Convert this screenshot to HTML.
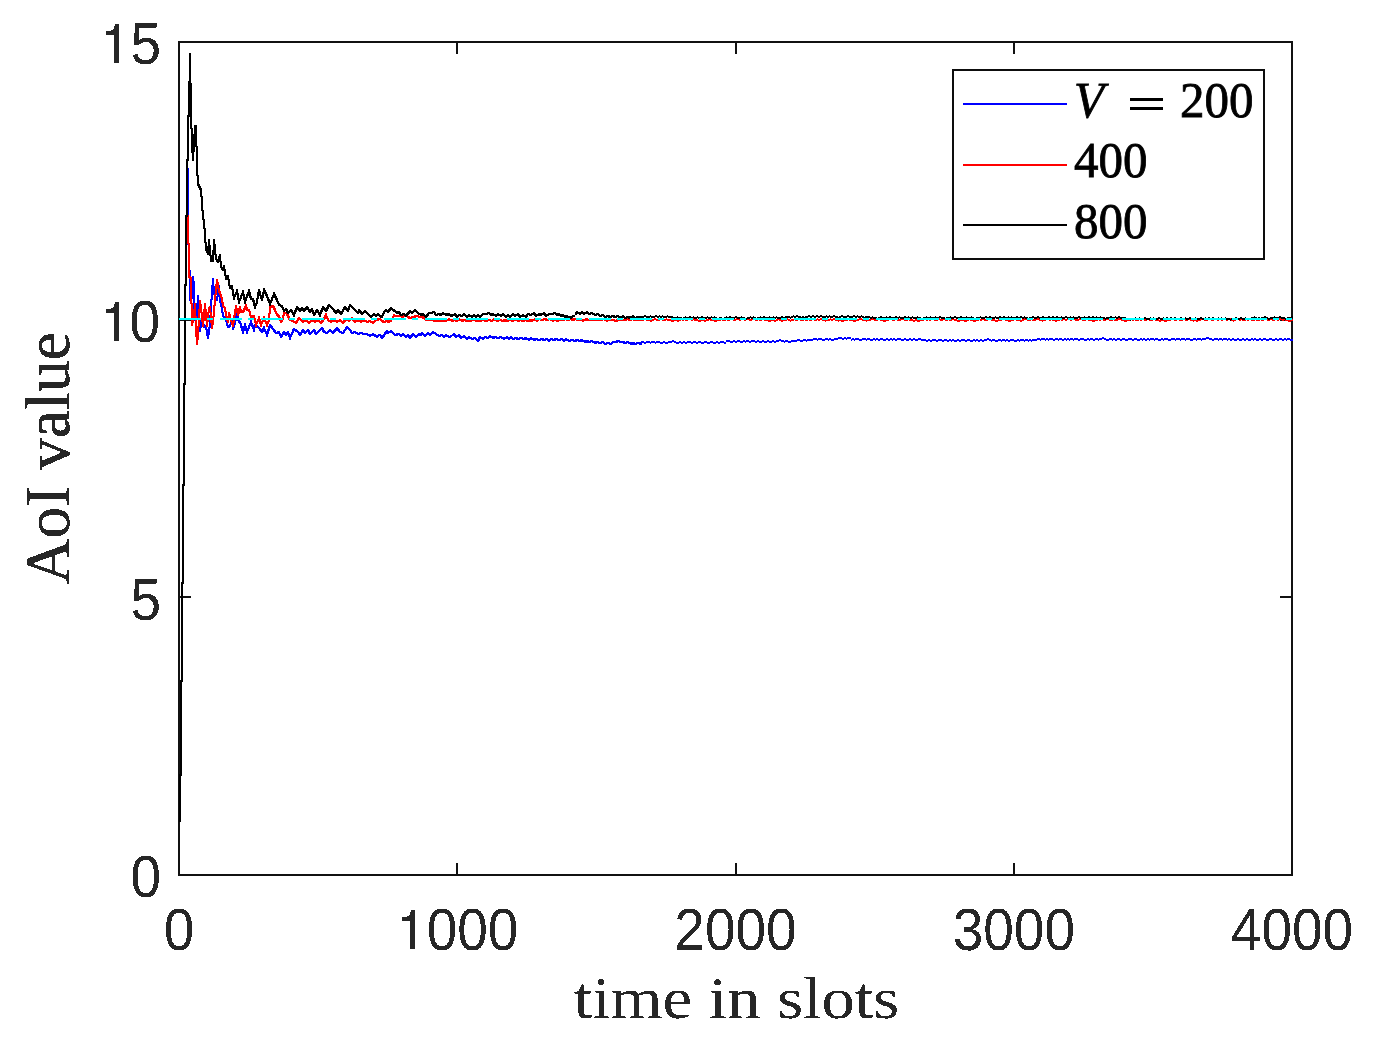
<!DOCTYPE html><html><head><meta charset="utf-8"><style>html,body{margin:0;padding:0;background:#fff;}svg{display:block}</style></head><body>
<svg width="1375" height="1044" viewBox="0 0 1375 1044">
<rect x="0" y="0" width="1375" height="1044" fill="#fff"/>
<filter id="bin" x="0" y="0" width="1375" height="1044" filterUnits="userSpaceOnUse"><feComponentTransfer><feFuncA type="discrete" tableValues="0 1"/></feComponentTransfer></filter>
<rect x="179" y="42" width="1113" height="833" fill="none" stroke="#111111" stroke-width="2" shape-rendering="crispEdges"/>
<line x1="457" y1="875" x2="457" y2="863" stroke="#111111" stroke-width="2" shape-rendering="crispEdges"/>
<line x1="457" y1="42" x2="457" y2="54" stroke="#111111" stroke-width="2" shape-rendering="crispEdges"/>
<line x1="736" y1="875" x2="736" y2="863" stroke="#111111" stroke-width="2" shape-rendering="crispEdges"/>
<line x1="736" y1="42" x2="736" y2="54" stroke="#111111" stroke-width="2" shape-rendering="crispEdges"/>
<line x1="1014" y1="875" x2="1014" y2="863" stroke="#111111" stroke-width="2" shape-rendering="crispEdges"/>
<line x1="1014" y1="42" x2="1014" y2="54" stroke="#111111" stroke-width="2" shape-rendering="crispEdges"/>
<line x1="179" y1="597" x2="191" y2="597" stroke="#111111" stroke-width="2" shape-rendering="crispEdges"/>
<line x1="1292" y1="597" x2="1280" y2="597" stroke="#111111" stroke-width="2" shape-rendering="crispEdges"/>
<line x1="179" y1="320" x2="191" y2="320" stroke="#111111" stroke-width="2" shape-rendering="crispEdges"/>
<line x1="1292" y1="320" x2="1280" y2="320" stroke="#111111" stroke-width="2" shape-rendering="crispEdges"/>
<polyline transform="translate(0,0)" fill="none" stroke="#0000ff" stroke-width="1" shape-rendering="crispEdges" points="179.5,820.5 179.5,774.5 180.5,774.5 180.5,680.5 181.5,680.5 181.5,582.5 182.5,582.5 182.5,484.5 183.5,484.5 183.5,383.5 184.5,383.5 184.5,284.5 185.5,284.5 185.5,215.5 186.5,215.5 186.5,168.5 187.5,168.5 187.5,224.5 188.5,263.5 189.5,276.5 189.5,299.5 191.5,298.5 192.5,276.5 193.5,285.5 193.5,302.5 195.5,325.5 197.5,295.5 198.5,315.5 199.5,330.5 201.5,315.5 203.5,326.5 205.5,325.5 207.5,337.5 209.5,323.5 211.5,291.5 212.5,278.5 213.5,292.5 215.5,299.5 216.5,299.5 218.5,285.5 219.5,300.5 221.5,307.5 222.5,315.5 225.5,319.5 227.5,326.5 229.5,325.5 231.5,319.5 232.5,328.5 234.5,322.5 236.5,314.5 238.5,321.5 239.5,321.5 242.5,331.5 244.5,324.5 246.5,331.5 250.5,321.5 253.5,329.5 254.5,324.5 258.5,327.5 261.5,331.5 263.5,327.5 266.5,334.5 269.5,324.5 272.5,328.5 275.5,332.5 278.5,331.5 280.5,336.5 283.5,331.5 285.5,334.5 287.5,331.5 289.5,337.5 293.5,328.5 297.5,331.5 299.5,334.5 302.5,329.5 304.5,332.5 307.5,329.5 309.5,333.5 313.5,329.5 315.5,333.5 319.5,329.5 321.5,327.5 323.5,331.5 326.5,332.5 329.5,329.5 332.5,332.5 336.5,327.5 339.5,331.5 342.5,332.5 346.5,326.5 349.5,329.5 351.5,332.5 354.5,331.5 357.5,333.5 360.5,332.5 363.5,333.5 366.5,333.5 369.5,335.5 372.5,333.5 376.5,336.5 378.5,334.5 379.5,334.5 381.5,337.5 386.5,330.5 387.5,332.5 390.5,330.5 394.5,334.5 398.5,333.5 400.5,335.5 402.5,333.5 405.5,336.5 407.5,334.5 409.5,337.5 412.5,333.5 415.5,336.5 418.5,333.5 420.5,334.5 421.5,332.5 424.5,335.5 427.5,332.5 429.5,334.5 432.5,331.5 435.5,333.5 438.5,335.5 441.5,334.5 443.5,336.5 445.5,334.5 448.5,336.5 451.5,335.5 453.5,333.5 455.5,336.5 458.5,334.5 460.5,337.5 463.5,335.5 466.5,338.5 468.5,336.5 471.5,338.5 474.5,337.5 477.5,340.5 479.5,336.5 482.5,338.5 484.5,336.5 487.5,337.5 489.5,335.5 492.5,337.5 494.5,336.5 497.5,337.5 500.5,336.5 503.5,338.5 506.5,336.5 508.5,338.5 510.5,336.5 512.5,338.5 515.5,337.5 517.5,338.5 520.5,337.5 523.5,338.5 525.5,337.5 528.5,339.5 530.5,337.5 533.5,339.5 535.5,338.5 538.5,339.5 541.5,338.5 543.5,339.5 546.5,338.5 548.5,340.5 550.5,338.5 553.5,339.5 555.5,338.5 558.5,339.5 561.5,338.5 563.5,340.5 565.5,338.5 568.5,340.5 571.5,339.5 574.5,340.5 576.5,339.5 579.5,340.5 581.5,339.5 584.5,341.5 586.5,340.5 588.5,341.5 591.5,340.5 594.5,342.5 596.5,341.5 599.5,342.5 602.5,341.5 604.5,343.5 607.5,342.5 610.5,343.5 612.5,341.5 615.5,341.5 617.5,340.5 620.5,341.5 622.5,341.5 624.5,342.5 627.5,341.5 630.5,343.5 632.5,342.5 634.5,343.5 637.5,342.5 640.5,343.5 640.5,341.5"/>
<polyline transform="translate(1,0)" fill="none" stroke="#0000ff" stroke-width="1" shape-rendering="crispEdges" points="179.5,820.5 179.5,774.5 180.5,774.5 180.5,680.5 181.5,680.5 181.5,582.5 182.5,582.5 182.5,484.5 183.5,484.5 183.5,383.5 184.5,383.5 184.5,284.5 185.5,284.5 185.5,215.5 186.5,215.5 186.5,168.5 187.5,168.5 187.5,224.5 188.5,263.5 189.5,276.5 189.5,299.5 191.5,298.5 192.5,276.5 193.5,285.5 193.5,302.5 195.5,325.5 197.5,295.5 198.5,315.5 199.5,330.5 201.5,315.5 203.5,326.5 205.5,325.5 207.5,337.5 209.5,323.5 211.5,291.5 212.5,278.5 213.5,292.5 215.5,299.5 216.5,299.5 218.5,285.5 219.5,300.5 221.5,307.5 222.5,315.5 225.5,319.5 227.5,326.5 229.5,325.5 231.5,319.5 232.5,328.5 234.5,322.5 236.5,314.5 238.5,321.5 239.5,321.5 242.5,331.5 244.5,324.5 246.5,331.5 250.5,321.5 253.5,329.5 254.5,324.5 258.5,327.5 261.5,331.5 263.5,327.5 266.5,334.5 269.5,324.5 272.5,328.5 275.5,332.5 278.5,331.5 280.5,336.5 283.5,331.5 285.5,334.5 287.5,331.5 289.5,337.5 293.5,328.5 297.5,331.5 299.5,334.5 302.5,329.5 304.5,332.5 307.5,329.5 309.5,333.5 313.5,329.5 315.5,333.5 319.5,329.5 321.5,327.5 323.5,331.5 326.5,332.5 329.5,329.5 332.5,332.5 336.5,327.5 339.5,331.5 342.5,332.5 346.5,326.5 349.5,329.5 351.5,332.5 354.5,331.5 357.5,333.5 360.5,332.5 363.5,333.5 366.5,333.5 369.5,335.5 372.5,333.5 376.5,336.5 378.5,334.5 379.5,334.5 381.5,337.5 386.5,330.5 387.5,332.5 390.5,330.5 394.5,334.5 398.5,333.5 400.5,335.5 402.5,333.5 405.5,336.5 407.5,334.5 409.5,337.5 412.5,333.5 415.5,336.5 418.5,333.5 420.5,334.5 421.5,332.5 424.5,335.5 427.5,332.5 429.5,334.5 432.5,331.5 435.5,333.5 438.5,335.5 441.5,334.5 443.5,336.5 445.5,334.5 448.5,336.5 451.5,335.5 453.5,333.5 455.5,336.5 458.5,334.5 460.5,337.5 463.5,335.5 466.5,338.5 468.5,336.5 471.5,338.5 474.5,337.5 477.5,340.5 479.5,336.5 482.5,338.5 484.5,336.5 487.5,337.5 489.5,335.5 492.5,337.5 494.5,336.5 497.5,337.5 500.5,336.5 503.5,338.5 506.5,336.5 508.5,338.5 510.5,336.5 512.5,338.5 515.5,337.5 517.5,338.5 520.5,337.5 523.5,338.5 525.5,337.5 528.5,339.5 530.5,337.5 533.5,339.5 535.5,338.5 538.5,339.5 541.5,338.5 543.5,339.5 546.5,338.5 548.5,340.5 550.5,338.5 553.5,339.5 555.5,338.5 558.5,339.5 561.5,338.5 563.5,340.5 565.5,338.5 568.5,340.5 571.5,339.5 574.5,340.5 576.5,339.5 579.5,340.5 581.5,339.5 584.5,341.5 586.5,340.5 588.5,341.5 591.5,340.5 594.5,342.5 596.5,341.5 599.5,342.5 602.5,341.5 604.5,343.5 607.5,342.5 610.5,343.5 612.5,341.5 615.5,341.5 617.5,340.5 620.5,341.5 622.5,341.5 624.5,342.5 627.5,341.5 630.5,343.5 632.5,342.5 634.5,343.5 637.5,342.5 640.5,343.5 640.5,341.5"/>
<polyline transform="translate(0,1)" fill="none" stroke="#0000ff" stroke-width="1" shape-rendering="crispEdges" points="179.5,820.5 179.5,774.5 180.5,774.5 180.5,680.5 181.5,680.5 181.5,582.5 182.5,582.5 182.5,484.5 183.5,484.5 183.5,383.5 184.5,383.5 184.5,284.5 185.5,284.5 185.5,215.5 186.5,215.5 186.5,168.5 187.5,168.5 187.5,224.5 188.5,263.5 189.5,276.5 189.5,299.5 191.5,298.5 192.5,276.5 193.5,285.5 193.5,302.5 195.5,325.5 197.5,295.5 198.5,315.5 199.5,330.5 201.5,315.5 203.5,326.5 205.5,325.5 207.5,337.5 209.5,323.5 211.5,291.5 212.5,278.5 213.5,292.5 215.5,299.5 216.5,299.5 218.5,285.5 219.5,300.5 221.5,307.5 222.5,315.5 225.5,319.5 227.5,326.5 229.5,325.5 231.5,319.5 232.5,328.5 234.5,322.5 236.5,314.5 238.5,321.5 239.5,321.5 242.5,331.5 244.5,324.5 246.5,331.5 250.5,321.5 253.5,329.5 254.5,324.5 258.5,327.5 261.5,331.5 263.5,327.5 266.5,334.5 269.5,324.5 272.5,328.5 275.5,332.5 278.5,331.5 280.5,336.5 283.5,331.5 285.5,334.5 287.5,331.5 289.5,337.5 293.5,328.5 297.5,331.5 299.5,334.5 302.5,329.5 304.5,332.5 307.5,329.5 309.5,333.5 313.5,329.5 315.5,333.5 319.5,329.5 321.5,327.5 323.5,331.5 326.5,332.5 329.5,329.5 332.5,332.5 336.5,327.5 339.5,331.5 342.5,332.5 346.5,326.5 349.5,329.5 351.5,332.5 354.5,331.5 357.5,333.5 360.5,332.5 363.5,333.5 366.5,333.5 369.5,335.5 372.5,333.5 376.5,336.5 378.5,334.5 379.5,334.5 381.5,337.5 386.5,330.5 387.5,332.5 390.5,330.5 394.5,334.5 398.5,333.5 400.5,335.5 402.5,333.5 405.5,336.5 407.5,334.5 409.5,337.5 412.5,333.5 415.5,336.5 418.5,333.5 420.5,334.5 421.5,332.5 424.5,335.5 427.5,332.5 429.5,334.5 432.5,331.5 435.5,333.5 438.5,335.5 441.5,334.5 443.5,336.5 445.5,334.5 448.5,336.5 451.5,335.5 453.5,333.5 455.5,336.5 458.5,334.5 460.5,337.5 463.5,335.5 466.5,338.5 468.5,336.5 471.5,338.5 474.5,337.5 477.5,340.5 479.5,336.5 482.5,338.5 484.5,336.5 487.5,337.5 489.5,335.5 492.5,337.5 494.5,336.5 497.5,337.5 500.5,336.5 503.5,338.5 506.5,336.5 508.5,338.5 510.5,336.5 512.5,338.5 515.5,337.5 517.5,338.5 520.5,337.5 523.5,338.5 525.5,337.5 528.5,339.5 530.5,337.5 533.5,339.5 535.5,338.5 538.5,339.5 541.5,338.5 543.5,339.5 546.5,338.5 548.5,340.5 550.5,338.5 553.5,339.5 555.5,338.5 558.5,339.5 561.5,338.5 563.5,340.5 565.5,338.5 568.5,340.5 571.5,339.5 574.5,340.5 576.5,339.5 579.5,340.5 581.5,339.5 584.5,341.5 586.5,340.5 588.5,341.5 591.5,340.5 594.5,342.5 596.5,341.5 599.5,342.5 602.5,341.5 604.5,343.5 607.5,342.5 610.5,343.5 612.5,341.5 615.5,341.5 617.5,340.5 620.5,341.5 622.5,341.5 624.5,342.5 627.5,341.5 630.5,343.5 632.5,342.5 634.5,343.5 637.5,342.5 640.5,343.5 640.5,341.5"/>
<polyline transform="translate(1,1)" fill="none" stroke="#0000ff" stroke-width="1" shape-rendering="crispEdges" points="179.5,820.5 179.5,774.5 180.5,774.5 180.5,680.5 181.5,680.5 181.5,582.5 182.5,582.5 182.5,484.5 183.5,484.5 183.5,383.5 184.5,383.5 184.5,284.5 185.5,284.5 185.5,215.5 186.5,215.5 186.5,168.5 187.5,168.5 187.5,224.5 188.5,263.5 189.5,276.5 189.5,299.5 191.5,298.5 192.5,276.5 193.5,285.5 193.5,302.5 195.5,325.5 197.5,295.5 198.5,315.5 199.5,330.5 201.5,315.5 203.5,326.5 205.5,325.5 207.5,337.5 209.5,323.5 211.5,291.5 212.5,278.5 213.5,292.5 215.5,299.5 216.5,299.5 218.5,285.5 219.5,300.5 221.5,307.5 222.5,315.5 225.5,319.5 227.5,326.5 229.5,325.5 231.5,319.5 232.5,328.5 234.5,322.5 236.5,314.5 238.5,321.5 239.5,321.5 242.5,331.5 244.5,324.5 246.5,331.5 250.5,321.5 253.5,329.5 254.5,324.5 258.5,327.5 261.5,331.5 263.5,327.5 266.5,334.5 269.5,324.5 272.5,328.5 275.5,332.5 278.5,331.5 280.5,336.5 283.5,331.5 285.5,334.5 287.5,331.5 289.5,337.5 293.5,328.5 297.5,331.5 299.5,334.5 302.5,329.5 304.5,332.5 307.5,329.5 309.5,333.5 313.5,329.5 315.5,333.5 319.5,329.5 321.5,327.5 323.5,331.5 326.5,332.5 329.5,329.5 332.5,332.5 336.5,327.5 339.5,331.5 342.5,332.5 346.5,326.5 349.5,329.5 351.5,332.5 354.5,331.5 357.5,333.5 360.5,332.5 363.5,333.5 366.5,333.5 369.5,335.5 372.5,333.5 376.5,336.5 378.5,334.5 379.5,334.5 381.5,337.5 386.5,330.5 387.5,332.5 390.5,330.5 394.5,334.5 398.5,333.5 400.5,335.5 402.5,333.5 405.5,336.5 407.5,334.5 409.5,337.5 412.5,333.5 415.5,336.5 418.5,333.5 420.5,334.5 421.5,332.5 424.5,335.5 427.5,332.5 429.5,334.5 432.5,331.5 435.5,333.5 438.5,335.5 441.5,334.5 443.5,336.5 445.5,334.5 448.5,336.5 451.5,335.5 453.5,333.5 455.5,336.5 458.5,334.5 460.5,337.5 463.5,335.5 466.5,338.5 468.5,336.5 471.5,338.5 474.5,337.5 477.5,340.5 479.5,336.5 482.5,338.5 484.5,336.5 487.5,337.5 489.5,335.5 492.5,337.5 494.5,336.5 497.5,337.5 500.5,336.5 503.5,338.5 506.5,336.5 508.5,338.5 510.5,336.5 512.5,338.5 515.5,337.5 517.5,338.5 520.5,337.5 523.5,338.5 525.5,337.5 528.5,339.5 530.5,337.5 533.5,339.5 535.5,338.5 538.5,339.5 541.5,338.5 543.5,339.5 546.5,338.5 548.5,340.5 550.5,338.5 553.5,339.5 555.5,338.5 558.5,339.5 561.5,338.5 563.5,340.5 565.5,338.5 568.5,340.5 571.5,339.5 574.5,340.5 576.5,339.5 579.5,340.5 581.5,339.5 584.5,341.5 586.5,340.5 588.5,341.5 591.5,340.5 594.5,342.5 596.5,341.5 599.5,342.5 602.5,341.5 604.5,343.5 607.5,342.5 610.5,343.5 612.5,341.5 615.5,341.5 617.5,340.5 620.5,341.5 622.5,341.5 624.5,342.5 627.5,341.5 630.5,343.5 632.5,342.5 634.5,343.5 637.5,342.5 640.5,343.5 640.5,341.5"/>
<path fill="#0000ff" shape-rendering="crispEdges" d="M641,341h3v2h-3zM644,342h2v2h-2zM646,341h4v2h-4zM650,342h1v2h-1zM651,341h4v2h-4zM655,342h1v2h-1zM656,341h4v2h-4zM660,342h3v2h-3zM663,341h2v2h-2zM665,342h3v2h-3zM668,341h4v2h-4zM672,340h2v2h-2zM674,341h2v2h-2zM676,342h3v2h-3zM679,341h2v2h-2zM681,342h2v2h-2zM683,341h2v2h-2zM685,342h2v2h-2zM687,341h4v2h-4zM691,342h2v2h-2zM693,341h3v2h-3zM696,342h2v2h-2zM698,341h3v2h-3zM701,342h3v2h-3zM704,341h3v2h-3zM707,342h3v2h-3zM710,341h3v2h-3zM713,342h3v2h-3zM716,341h2v2h-2zM718,342h2v2h-2zM720,341h4v2h-4zM724,342h2v2h-2zM726,340h4v2h-4zM730,341h3v2h-3zM733,340h2v2h-2zM735,341h2v2h-2zM737,340h3v2h-3zM740,341h3v2h-3zM743,340h2v2h-2zM745,341h1v2h-1zM746,340h3v2h-3zM749,341h2v2h-2zM751,340h4v2h-4zM755,341h2v2h-2zM757,340h2v2h-2zM759,341h3v2h-3zM762,340h2v2h-2zM764,341h3v2h-3zM767,340h2v2h-2zM769,341h3v2h-3zM772,340h2v2h-2zM774,341h2v2h-2zM776,340h3v2h-3zM779,339h2v2h-2zM781,340h3v2h-3zM784,341h1v2h-1zM785,340h3v2h-3zM788,341h3v2h-3zM791,340h4v2h-4zM795,340h2v2h-2zM797,339h3v2h-3zM800,340h3v2h-3zM803,339h3v2h-3zM806,340h1v2h-1zM807,339h4v2h-4zM811,339h2v2h-2zM813,338h4v2h-4zM817,339h1v2h-1zM818,338h4v2h-4zM822,339h3v2h-3zM825,338h3v2h-3zM828,339h1v2h-1zM829,338h2v2h-2zM831,339h3v2h-3zM834,338h2v2h-2zM836,338h2v2h-2zM838,337h4v2h-4zM842,338h2v2h-2zM844,337h2v2h-2zM846,338h1v2h-1zM847,337h4v2h-4zM851,339h1v2h-1zM852,338h2v2h-2zM854,339h1v2h-1zM855,338h4v2h-4zM859,339h3v2h-3zM862,338h4v2h-4zM866,339h1v2h-1zM867,338h3v2h-3zM870,339h3v2h-3zM873,338h2v2h-2zM875,339h1v2h-1zM876,338h2v2h-2zM878,339h2v2h-2zM880,338h3v2h-3zM883,339h3v2h-3zM886,338h2v2h-2zM888,339h2v2h-2zM890,338h2v2h-2zM892,339h1v2h-1zM893,338h2v2h-2zM895,339h2v2h-2zM897,338h4v2h-4zM901,339h3v2h-3zM904,338h2v2h-2zM906,339h3v2h-3zM909,338h2v2h-2zM911,339h2v2h-2zM913,338h2v2h-2zM915,339h3v2h-3zM918,338h3v2h-3zM921,339h3v2h-3zM924,339h2v2h-2zM926,340h2v2h-2zM928,339h2v2h-2zM930,340h2v2h-2zM932,339h4v2h-4zM936,340h2v2h-2zM938,339h4v2h-4zM942,340h2v2h-2zM944,339h3v2h-3zM947,340h2v2h-2zM949,339h2v2h-2zM951,340h1v2h-1zM952,339h2v2h-2zM954,340h3v2h-3zM957,339h2v2h-2zM959,340h2v2h-2zM961,339h4v2h-4zM965,340h2v2h-2zM967,339h3v2h-3zM970,340h3v2h-3zM973,339h2v2h-2zM975,340h1v2h-1zM976,339h2v2h-2zM978,340h2v2h-2zM980,339h2v2h-2zM982,340h2v2h-2zM984,339h3v2h-3zM987,338h2v2h-2zM989,339h2v2h-2zM991,340h1v2h-1zM992,339h3v2h-3zM995,340h3v2h-3zM998,339h3v2h-3zM1001,340h1v2h-1zM1002,339h3v2h-3zM1005,340h1v2h-1zM1006,339h2v2h-2zM1008,340h2v2h-2zM1010,339h4v2h-4zM1014,340h3v2h-3zM1017,339h2v2h-2zM1019,340h1v2h-1zM1020,339h4v2h-4zM1024,340h1v2h-1zM1025,339h3v2h-3zM1028,340h1v2h-1zM1029,339h2v2h-2zM1031,340h1v2h-1zM1032,339h4v2h-4zM1036,339h1v2h-1zM1037,338h3v2h-3zM1040,339h1v2h-1zM1041,338h4v2h-4zM1045,339h1v2h-1zM1046,338h2v2h-2zM1048,339h1v2h-1zM1049,338h4v2h-4zM1053,339h2v2h-2zM1055,338h3v2h-3zM1058,339h1v2h-1zM1059,338h3v2h-3zM1062,339h2v2h-2zM1064,338h2v2h-2zM1066,339h1v2h-1zM1067,338h2v2h-2zM1069,339h1v2h-1zM1070,338h3v2h-3zM1073,339h1v2h-1zM1074,338h4v2h-4zM1078,339h2v2h-2zM1080,338h4v2h-4zM1084,339h3v2h-3zM1087,338h2v2h-2zM1089,339h1v2h-1zM1090,338h3v2h-3zM1093,339h2v2h-2zM1095,338h3v2h-3zM1098,339h1v2h-1zM1099,338h3v2h-3zM1102,337h2v2h-2zM1104,338h2v2h-2zM1106,339h3v2h-3zM1109,338h3v2h-3zM1112,339h1v2h-1zM1113,338h2v2h-2zM1115,339h2v2h-2zM1117,338h3v2h-3zM1120,339h2v2h-2zM1122,338h3v2h-3zM1125,339h3v2h-3zM1128,338h4v2h-4zM1132,339h2v2h-2zM1134,338h3v2h-3zM1137,339h3v2h-3zM1140,338h2v2h-2zM1142,339h1v2h-1zM1143,338h2v2h-2zM1145,339h2v2h-2zM1147,338h2v2h-2zM1149,339h1v2h-1zM1150,338h4v2h-4zM1154,339h1v2h-1zM1155,338h3v2h-3zM1158,339h3v2h-3zM1161,338h2v2h-2zM1163,339h1v2h-1zM1164,338h4v2h-4zM1168,339h3v2h-3zM1171,338h4v2h-4zM1175,339h1v2h-1zM1176,338h4v2h-4zM1180,339h1v2h-1zM1181,338h4v2h-4zM1185,339h1v2h-1zM1186,338h4v2h-4zM1190,339h3v2h-3zM1193,338h3v2h-3zM1196,339h1v2h-1zM1197,338h4v2h-4zM1201,339h1v2h-1zM1202,338h4v2h-4zM1206,337h3v2h-3zM1209,338h3v2h-3zM1212,339h2v2h-2zM1214,338h4v2h-4zM1218,339h1v2h-1zM1219,338h3v2h-3zM1222,339h1v2h-1zM1223,338h4v2h-4zM1227,339h1v2h-1zM1228,338h2v2h-2zM1230,339h2v2h-2zM1232,338h2v2h-2zM1234,339h3v2h-3zM1237,338h2v2h-2zM1239,339h3v2h-3zM1242,338h2v2h-2zM1244,339h2v2h-2zM1246,338h2v2h-2zM1248,339h3v2h-3zM1251,338h2v2h-2zM1253,339h1v2h-1zM1254,338h2v2h-2zM1256,339h3v2h-3zM1259,338h2v2h-2zM1261,339h2v2h-2zM1263,338h3v2h-3zM1266,339h3v2h-3zM1269,338h3v2h-3zM1272,339h3v2h-3zM1275,338h2v2h-2zM1277,339h2v2h-2zM1279,338h3v2h-3zM1282,339h2v2h-2zM1284,338h2v2h-2zM1286,339h1v2h-1zM1287,338h3v2h-3zM1290,339h3v2h-3z"/>
<polyline transform="translate(0,0)" fill="none" stroke="#ff0000" stroke-width="1" shape-rendering="crispEdges" points="179.5,820.5 179.5,774.5 180.5,774.5 180.5,680.5 181.5,680.5 181.5,582.5 182.5,582.5 182.5,484.5 183.5,484.5 183.5,383.5 184.5,383.5 184.5,284.5 185.5,284.5 185.5,215.5 187.5,215.5 188.5,268.5 188.5,276.5 190.5,277.5 190.5,293.5 191.5,311.5 191.5,324.5 193.5,315.5 194.5,303.5 195.5,328.5 196.5,343.5 197.5,334.5 199.5,300.5 200.5,307.5 202.5,325.5 203.5,315.5 204.5,303.5 206.5,325.5 208.5,307.5 209.5,306.5 211.5,327.5 212.5,321.5 214.5,299.5 216.5,279.5 218.5,290.5 219.5,292.5 221.5,298.5 222.5,305.5 224.5,307.5 225.5,314.5 227.5,321.5 228.5,312.5 231.5,322.5 232.5,325.5 235.5,305.5 237.5,314.5 239.5,306.5 240.5,311.5 242.5,311.5 245.5,305.5 246.5,309.5 248.5,309.5 250.5,316.5 253.5,315.5 255.5,324.5 258.5,317.5 260.5,324.5 263.5,317.5 266.5,324.5 268.5,319.5 269.5,306.5 272.5,305.5 274.5,309.5 276.5,314.5 278.5,315.5 280.5,321.5 282.5,318.5 283.5,311.5 286.5,313.5 289.5,319.5 292.5,320.5 295.5,322.5 298.5,317.5 299.5,318.5 302.5,321.5 305.5,319.5 308.5,322.5 311.5,319.5 314.5,321.5 317.5,319.5 320.5,322.5 323.5,318.5 325.5,314.5 327.5,319.5 330.5,321.5 333.5,319.5 336.5,321.5 339.5,319.5 342.5,322.5 345.5,318.5 348.5,320.5 351.5,317.5 354.5,321.5 357.5,319.5 360.5,321.5 363.5,319.5 366.5,321.5 369.5,320.5 372.5,322.5 375.5,319.5 379.5,318.5 381.5,320.5 383.5,321.5 386.5,320.5 388.5,321.5 391.5,319.5 393.5,314.5 394.5,315.5 397.5,315.5 399.5,315.5 402.5,316.5 405.5,314.5 407.5,316.5 409.5,317.5 412.5,316.5 416.5,315.5 419.5,316.5 421.5,316.5 423.5,317.5 425.5,319.5 430.5,319.5 435.5,320.5 440.5,320.5 445.5,320.5 448.5,318.5 451.5,320.5 453.5,319.5 456.5,320.5 458.5,318.5 461.5,320.5 463.5,319.5 466.5,320.5 468.5,319.5 470.5,320.5 473.5,318.5 475.5,320.5 477.5,319.5 479.5,320.5 482.5,319.5 485.5,320.5 488.5,319.5 491.5,320.5 493.5,318.5 496.5,320.5 499.5,319.5 502.5,320.5 504.5,319.5 506.5,320.5 509.5,319.5 512.5,320.5 514.5,318.5 517.5,320.5 519.5,319.5 522.5,320.5 525.5,319.5 527.5,320.5 529.5,319.5 531.5,320.5 534.5,318.5 536.5,320.5 538.5,318.5 541.5,319.5 544.5,318.5 546.5,319.5 549.5,318.5 552.5,320.5 554.5,318.5 556.5,320.5 559.5,319.5 562.5,319.5 565.5,318.5 567.5,319.5 570.5,318.5 572.5,319.5 574.5,318.5 577.5,319.5 579.5,318.5 582.5,320.5 585.5,318.5 587.5,319.5 590.5,319.5 592.5,319.5 594.5,318.5 596.5,319.5 598.5,318.5 600.5,319.5 603.5,318.5 606.5,320.5 608.5,318.5 610.5,319.5 612.5,319.5 615.5,320.5 617.5,319.5 620.5,319.5 622.5,319.5 624.5,319.5 627.5,318.5 629.5,319.5 632.5,318.5 634.5,319.5 637.5,319.5 639.5,319.5 640.5,319.5"/>
<polyline transform="translate(1,0)" fill="none" stroke="#ff0000" stroke-width="1" shape-rendering="crispEdges" points="179.5,820.5 179.5,774.5 180.5,774.5 180.5,680.5 181.5,680.5 181.5,582.5 182.5,582.5 182.5,484.5 183.5,484.5 183.5,383.5 184.5,383.5 184.5,284.5 185.5,284.5 185.5,215.5 187.5,215.5 188.5,268.5 188.5,276.5 190.5,277.5 190.5,293.5 191.5,311.5 191.5,324.5 193.5,315.5 194.5,303.5 195.5,328.5 196.5,343.5 197.5,334.5 199.5,300.5 200.5,307.5 202.5,325.5 203.5,315.5 204.5,303.5 206.5,325.5 208.5,307.5 209.5,306.5 211.5,327.5 212.5,321.5 214.5,299.5 216.5,279.5 218.5,290.5 219.5,292.5 221.5,298.5 222.5,305.5 224.5,307.5 225.5,314.5 227.5,321.5 228.5,312.5 231.5,322.5 232.5,325.5 235.5,305.5 237.5,314.5 239.5,306.5 240.5,311.5 242.5,311.5 245.5,305.5 246.5,309.5 248.5,309.5 250.5,316.5 253.5,315.5 255.5,324.5 258.5,317.5 260.5,324.5 263.5,317.5 266.5,324.5 268.5,319.5 269.5,306.5 272.5,305.5 274.5,309.5 276.5,314.5 278.5,315.5 280.5,321.5 282.5,318.5 283.5,311.5 286.5,313.5 289.5,319.5 292.5,320.5 295.5,322.5 298.5,317.5 299.5,318.5 302.5,321.5 305.5,319.5 308.5,322.5 311.5,319.5 314.5,321.5 317.5,319.5 320.5,322.5 323.5,318.5 325.5,314.5 327.5,319.5 330.5,321.5 333.5,319.5 336.5,321.5 339.5,319.5 342.5,322.5 345.5,318.5 348.5,320.5 351.5,317.5 354.5,321.5 357.5,319.5 360.5,321.5 363.5,319.5 366.5,321.5 369.5,320.5 372.5,322.5 375.5,319.5 379.5,318.5 381.5,320.5 383.5,321.5 386.5,320.5 388.5,321.5 391.5,319.5 393.5,314.5 394.5,315.5 397.5,315.5 399.5,315.5 402.5,316.5 405.5,314.5 407.5,316.5 409.5,317.5 412.5,316.5 416.5,315.5 419.5,316.5 421.5,316.5 423.5,317.5 425.5,319.5 430.5,319.5 435.5,320.5 440.5,320.5 445.5,320.5 448.5,318.5 451.5,320.5 453.5,319.5 456.5,320.5 458.5,318.5 461.5,320.5 463.5,319.5 466.5,320.5 468.5,319.5 470.5,320.5 473.5,318.5 475.5,320.5 477.5,319.5 479.5,320.5 482.5,319.5 485.5,320.5 488.5,319.5 491.5,320.5 493.5,318.5 496.5,320.5 499.5,319.5 502.5,320.5 504.5,319.5 506.5,320.5 509.5,319.5 512.5,320.5 514.5,318.5 517.5,320.5 519.5,319.5 522.5,320.5 525.5,319.5 527.5,320.5 529.5,319.5 531.5,320.5 534.5,318.5 536.5,320.5 538.5,318.5 541.5,319.5 544.5,318.5 546.5,319.5 549.5,318.5 552.5,320.5 554.5,318.5 556.5,320.5 559.5,319.5 562.5,319.5 565.5,318.5 567.5,319.5 570.5,318.5 572.5,319.5 574.5,318.5 577.5,319.5 579.5,318.5 582.5,320.5 585.5,318.5 587.5,319.5 590.5,319.5 592.5,319.5 594.5,318.5 596.5,319.5 598.5,318.5 600.5,319.5 603.5,318.5 606.5,320.5 608.5,318.5 610.5,319.5 612.5,319.5 615.5,320.5 617.5,319.5 620.5,319.5 622.5,319.5 624.5,319.5 627.5,318.5 629.5,319.5 632.5,318.5 634.5,319.5 637.5,319.5 639.5,319.5 640.5,319.5"/>
<polyline transform="translate(0,1)" fill="none" stroke="#ff0000" stroke-width="1" shape-rendering="crispEdges" points="179.5,820.5 179.5,774.5 180.5,774.5 180.5,680.5 181.5,680.5 181.5,582.5 182.5,582.5 182.5,484.5 183.5,484.5 183.5,383.5 184.5,383.5 184.5,284.5 185.5,284.5 185.5,215.5 187.5,215.5 188.5,268.5 188.5,276.5 190.5,277.5 190.5,293.5 191.5,311.5 191.5,324.5 193.5,315.5 194.5,303.5 195.5,328.5 196.5,343.5 197.5,334.5 199.5,300.5 200.5,307.5 202.5,325.5 203.5,315.5 204.5,303.5 206.5,325.5 208.5,307.5 209.5,306.5 211.5,327.5 212.5,321.5 214.5,299.5 216.5,279.5 218.5,290.5 219.5,292.5 221.5,298.5 222.5,305.5 224.5,307.5 225.5,314.5 227.5,321.5 228.5,312.5 231.5,322.5 232.5,325.5 235.5,305.5 237.5,314.5 239.5,306.5 240.5,311.5 242.5,311.5 245.5,305.5 246.5,309.5 248.5,309.5 250.5,316.5 253.5,315.5 255.5,324.5 258.5,317.5 260.5,324.5 263.5,317.5 266.5,324.5 268.5,319.5 269.5,306.5 272.5,305.5 274.5,309.5 276.5,314.5 278.5,315.5 280.5,321.5 282.5,318.5 283.5,311.5 286.5,313.5 289.5,319.5 292.5,320.5 295.5,322.5 298.5,317.5 299.5,318.5 302.5,321.5 305.5,319.5 308.5,322.5 311.5,319.5 314.5,321.5 317.5,319.5 320.5,322.5 323.5,318.5 325.5,314.5 327.5,319.5 330.5,321.5 333.5,319.5 336.5,321.5 339.5,319.5 342.5,322.5 345.5,318.5 348.5,320.5 351.5,317.5 354.5,321.5 357.5,319.5 360.5,321.5 363.5,319.5 366.5,321.5 369.5,320.5 372.5,322.5 375.5,319.5 379.5,318.5 381.5,320.5 383.5,321.5 386.5,320.5 388.5,321.5 391.5,319.5 393.5,314.5 394.5,315.5 397.5,315.5 399.5,315.5 402.5,316.5 405.5,314.5 407.5,316.5 409.5,317.5 412.5,316.5 416.5,315.5 419.5,316.5 421.5,316.5 423.5,317.5 425.5,319.5 430.5,319.5 435.5,320.5 440.5,320.5 445.5,320.5 448.5,318.5 451.5,320.5 453.5,319.5 456.5,320.5 458.5,318.5 461.5,320.5 463.5,319.5 466.5,320.5 468.5,319.5 470.5,320.5 473.5,318.5 475.5,320.5 477.5,319.5 479.5,320.5 482.5,319.5 485.5,320.5 488.5,319.5 491.5,320.5 493.5,318.5 496.5,320.5 499.5,319.5 502.5,320.5 504.5,319.5 506.5,320.5 509.5,319.5 512.5,320.5 514.5,318.5 517.5,320.5 519.5,319.5 522.5,320.5 525.5,319.5 527.5,320.5 529.5,319.5 531.5,320.5 534.5,318.5 536.5,320.5 538.5,318.5 541.5,319.5 544.5,318.5 546.5,319.5 549.5,318.5 552.5,320.5 554.5,318.5 556.5,320.5 559.5,319.5 562.5,319.5 565.5,318.5 567.5,319.5 570.5,318.5 572.5,319.5 574.5,318.5 577.5,319.5 579.5,318.5 582.5,320.5 585.5,318.5 587.5,319.5 590.5,319.5 592.5,319.5 594.5,318.5 596.5,319.5 598.5,318.5 600.5,319.5 603.5,318.5 606.5,320.5 608.5,318.5 610.5,319.5 612.5,319.5 615.5,320.5 617.5,319.5 620.5,319.5 622.5,319.5 624.5,319.5 627.5,318.5 629.5,319.5 632.5,318.5 634.5,319.5 637.5,319.5 639.5,319.5 640.5,319.5"/>
<polyline transform="translate(1,1)" fill="none" stroke="#ff0000" stroke-width="1" shape-rendering="crispEdges" points="179.5,820.5 179.5,774.5 180.5,774.5 180.5,680.5 181.5,680.5 181.5,582.5 182.5,582.5 182.5,484.5 183.5,484.5 183.5,383.5 184.5,383.5 184.5,284.5 185.5,284.5 185.5,215.5 187.5,215.5 188.5,268.5 188.5,276.5 190.5,277.5 190.5,293.5 191.5,311.5 191.5,324.5 193.5,315.5 194.5,303.5 195.5,328.5 196.5,343.5 197.5,334.5 199.5,300.5 200.5,307.5 202.5,325.5 203.5,315.5 204.5,303.5 206.5,325.5 208.5,307.5 209.5,306.5 211.5,327.5 212.5,321.5 214.5,299.5 216.5,279.5 218.5,290.5 219.5,292.5 221.5,298.5 222.5,305.5 224.5,307.5 225.5,314.5 227.5,321.5 228.5,312.5 231.5,322.5 232.5,325.5 235.5,305.5 237.5,314.5 239.5,306.5 240.5,311.5 242.5,311.5 245.5,305.5 246.5,309.5 248.5,309.5 250.5,316.5 253.5,315.5 255.5,324.5 258.5,317.5 260.5,324.5 263.5,317.5 266.5,324.5 268.5,319.5 269.5,306.5 272.5,305.5 274.5,309.5 276.5,314.5 278.5,315.5 280.5,321.5 282.5,318.5 283.5,311.5 286.5,313.5 289.5,319.5 292.5,320.5 295.5,322.5 298.5,317.5 299.5,318.5 302.5,321.5 305.5,319.5 308.5,322.5 311.5,319.5 314.5,321.5 317.5,319.5 320.5,322.5 323.5,318.5 325.5,314.5 327.5,319.5 330.5,321.5 333.5,319.5 336.5,321.5 339.5,319.5 342.5,322.5 345.5,318.5 348.5,320.5 351.5,317.5 354.5,321.5 357.5,319.5 360.5,321.5 363.5,319.5 366.5,321.5 369.5,320.5 372.5,322.5 375.5,319.5 379.5,318.5 381.5,320.5 383.5,321.5 386.5,320.5 388.5,321.5 391.5,319.5 393.5,314.5 394.5,315.5 397.5,315.5 399.5,315.5 402.5,316.5 405.5,314.5 407.5,316.5 409.5,317.5 412.5,316.5 416.5,315.5 419.5,316.5 421.5,316.5 423.5,317.5 425.5,319.5 430.5,319.5 435.5,320.5 440.5,320.5 445.5,320.5 448.5,318.5 451.5,320.5 453.5,319.5 456.5,320.5 458.5,318.5 461.5,320.5 463.5,319.5 466.5,320.5 468.5,319.5 470.5,320.5 473.5,318.5 475.5,320.5 477.5,319.5 479.5,320.5 482.5,319.5 485.5,320.5 488.5,319.5 491.5,320.5 493.5,318.5 496.5,320.5 499.5,319.5 502.5,320.5 504.5,319.5 506.5,320.5 509.5,319.5 512.5,320.5 514.5,318.5 517.5,320.5 519.5,319.5 522.5,320.5 525.5,319.5 527.5,320.5 529.5,319.5 531.5,320.5 534.5,318.5 536.5,320.5 538.5,318.5 541.5,319.5 544.5,318.5 546.5,319.5 549.5,318.5 552.5,320.5 554.5,318.5 556.5,320.5 559.5,319.5 562.5,319.5 565.5,318.5 567.5,319.5 570.5,318.5 572.5,319.5 574.5,318.5 577.5,319.5 579.5,318.5 582.5,320.5 585.5,318.5 587.5,319.5 590.5,319.5 592.5,319.5 594.5,318.5 596.5,319.5 598.5,318.5 600.5,319.5 603.5,318.5 606.5,320.5 608.5,318.5 610.5,319.5 612.5,319.5 615.5,320.5 617.5,319.5 620.5,319.5 622.5,319.5 624.5,319.5 627.5,318.5 629.5,319.5 632.5,318.5 634.5,319.5 637.5,319.5 639.5,319.5 640.5,319.5"/>
<path fill="#ff0000" shape-rendering="crispEdges" d="M641,319h3v2h-3zM644,318h2v2h-2zM646,319h4v2h-4zM650,320h2v2h-2zM652,319h2v2h-2zM654,318h2v2h-2zM656,319h4v2h-4zM660,318h2v2h-2zM662,319h4v2h-4zM666,318h1v2h-1zM667,319h4v2h-4zM671,320h3v2h-3zM674,319h3v2h-3zM677,320h2v2h-2zM679,319h2v2h-2zM681,318h1v2h-1zM682,319h2v2h-2zM684,318h1v2h-1zM685,319h3v2h-3zM688,318h3v2h-3zM691,319h2v2h-2zM693,318h1v2h-1zM694,319h4v2h-4zM698,320h3v2h-3zM701,319h3v2h-3zM704,320h2v2h-2zM706,319h3v2h-3zM709,318h1v2h-1zM710,319h4v2h-4zM714,320h3v2h-3zM717,319h4v2h-4zM721,318h1v2h-1zM722,319h4v2h-4zM726,318h1v2h-1zM727,319h3v2h-3zM730,318h3v2h-3zM733,319h3v2h-3zM736,318h3v2h-3zM739,319h2v2h-2zM741,318h3v2h-3zM744,319h2v2h-2zM746,318h3v2h-3zM749,319h3v2h-3zM752,318h3v2h-3zM755,319h3v2h-3zM758,318h1v2h-1zM759,319h3v2h-3zM762,318h2v2h-2zM764,319h4v2h-4zM768,320h3v2h-3zM771,319h3v2h-3zM774,320h2v2h-2zM776,319h2v2h-2zM778,318h1v2h-1zM779,319h2v2h-2zM781,320h2v2h-2zM783,319h4v2h-4zM787,318h1v2h-1zM788,319h2v2h-2zM790,320h1v2h-1zM791,319h3v2h-3zM794,318h1v2h-1zM795,319h3v2h-3zM798,318h2v2h-2zM800,319h4v2h-4zM804,318h1v2h-1zM805,319h3v2h-3zM808,318h1v2h-1zM809,319h3v2h-3zM812,318h2v2h-2zM814,319h3v2h-3zM817,318h1v2h-1zM818,319h2v2h-2zM820,318h2v2h-2zM822,319h3v2h-3zM825,320h1v2h-1zM826,319h4v2h-4zM830,318h1v2h-1zM831,319h2v2h-2zM833,318h2v2h-2zM835,319h3v2h-3zM838,320h1v2h-1zM839,319h2v2h-2zM841,320h3v2h-3zM844,319h4v2h-4zM848,318h1v2h-1zM849,319h4v2h-4zM853,320h3v2h-3zM856,319h3v2h-3zM859,318h3v2h-3zM862,319h4v2h-4zM866,320h1v2h-1zM867,319h4v2h-4zM871,318h3v2h-3zM874,319h4v2h-4zM878,318h2v2h-2zM880,319h3v2h-3zM883,320h3v2h-3zM886,319h3v2h-3zM889,318h3v2h-3zM892,319h3v2h-3zM895,318h2v2h-2zM897,319h4v2h-4zM901,318h3v2h-3zM904,319h4v2h-4zM908,318h1v2h-1zM909,319h4v2h-4zM913,320h2v2h-2zM915,319h2v2h-2zM917,320h3v2h-3zM920,319h4v2h-4zM924,318h2v2h-2zM926,319h2v2h-2zM928,318h1v2h-1zM929,319h2v2h-2zM931,318h3v2h-3zM934,319h4v2h-4zM938,318h2v2h-2zM940,319h3v2h-3zM943,318h2v2h-2zM945,319h3v2h-3zM948,318h1v2h-1zM949,319h3v2h-3zM952,318h2v2h-2zM954,319h3v2h-3zM957,320h3v2h-3zM960,319h4v2h-4zM964,320h3v2h-3zM967,319h2v2h-2zM969,318h1v2h-1zM970,319h3v2h-3zM973,320h3v2h-3zM976,319h3v2h-3zM979,318h1v2h-1zM980,319h2v2h-2zM982,318h2v2h-2zM984,319h4v2h-4zM988,318h3v2h-3zM991,319h4v2h-4zM995,320h3v2h-3zM998,319h4v2h-4zM1002,318h3v2h-3zM1005,319h3v2h-3zM1008,320h3v2h-3zM1011,319h3v2h-3zM1014,318h2v2h-2zM1016,319h4v2h-4zM1020,320h2v2h-2zM1022,319h2v2h-2zM1024,318h3v2h-3zM1027,319h4v2h-4zM1031,318h1v2h-1zM1032,319h4v2h-4zM1036,318h3v2h-3zM1039,319h3v2h-3zM1042,320h1v2h-1zM1043,319h3v2h-3zM1046,318h3v2h-3zM1049,319h2v2h-2zM1051,318h1v2h-1zM1052,319h3v2h-3zM1055,320h2v2h-2zM1057,319h3v2h-3zM1060,318h1v2h-1zM1061,319h2v2h-2zM1063,318h2v2h-2zM1065,319h2v2h-2zM1067,318h3v2h-3zM1070,319h2v2h-2zM1072,318h3v2h-3zM1075,319h4v2h-4zM1079,318h3v2h-3zM1082,319h4v2h-4zM1086,318h2v2h-2zM1088,319h4v2h-4zM1092,320h3v2h-3zM1095,319h3v2h-3zM1098,318h1v2h-1zM1099,319h2v2h-2zM1101,318h2v2h-2zM1103,319h3v2h-3zM1106,318h3v2h-3zM1109,319h4v2h-4zM1113,318h1v2h-1zM1114,319h4v2h-4zM1118,318h3v2h-3zM1121,319h3v2h-3zM1124,320h3v2h-3zM1127,319h3v2h-3zM1130,318h2v2h-2zM1132,319h2v2h-2zM1134,318h1v2h-1zM1135,319h4v2h-4zM1139,318h1v2h-1zM1140,319h2v2h-2zM1142,318h2v2h-2zM1144,319h3v2h-3zM1147,318h2v2h-2zM1149,319h4v2h-4zM1153,318h2v2h-2zM1155,319h4v2h-4zM1159,320h2v2h-2zM1161,319h3v2h-3zM1164,320h3v2h-3zM1167,319h4v2h-4zM1171,318h3v2h-3zM1174,319h3v2h-3zM1177,318h2v2h-2zM1179,319h4v2h-4zM1183,318h2v2h-2zM1185,319h3v2h-3zM1188,318h2v2h-2zM1190,319h3v2h-3zM1193,320h1v2h-1zM1194,319h2v2h-2zM1196,320h2v2h-2zM1198,319h3v2h-3zM1201,318h3v2h-3zM1204,319h4v2h-4zM1208,318h3v2h-3zM1211,319h3v2h-3zM1214,318h3v2h-3zM1217,319h2v2h-2zM1219,318h2v2h-2zM1221,319h2v2h-2zM1223,318h3v2h-3zM1226,319h2v2h-2zM1228,318h3v2h-3zM1231,319h2v2h-2zM1233,320h1v2h-1zM1234,319h2v2h-2zM1236,318h3v2h-3zM1239,319h2v2h-2zM1241,318h1v2h-1zM1242,319h4v2h-4zM1246,318h1v2h-1zM1247,319h2v2h-2zM1249,318h2v2h-2zM1251,319h4v2h-4zM1255,318h1v2h-1zM1256,319h4v2h-4zM1260,318h1v2h-1zM1261,319h3v2h-3zM1264,318h3v2h-3zM1267,319h3v2h-3zM1270,318h2v2h-2zM1272,319h3v2h-3zM1275,318h2v2h-2zM1277,319h2v2h-2zM1279,318h3v2h-3zM1282,319h2v2h-2zM1284,318h1v2h-1zM1285,319h3v2h-3zM1288,320h3v2h-3zM1291,319h2v2h-2z"/>
<polyline transform="translate(0,0)" fill="none" stroke="#000000" stroke-width="1" shape-rendering="crispEdges" points="179.5,820.5 179.5,774.5 180.5,774.5 180.5,680.5 181.5,680.5 181.5,582.5 182.5,582.5 182.5,484.5 183.5,484.5 183.5,383.5 184.5,383.5 184.5,284.5 185.5,284.5 185.5,215.5 186.5,215.5 186.5,159.5 187.5,159.5 187.5,115.5 188.5,115.5 188.5,81.5 189.5,81.5 189.5,53.5 190.5,110.5 191.5,144.5 192.5,159.5 193.5,143.5 194.5,125.5 195.5,125.5 196.5,165.5 197.5,183.5 200.5,189.5 201.5,202.5 202.5,216.5 203.5,221.5 205.5,248.5 207.5,252.5 208.5,239.5 210.5,260.5 212.5,260.5 213.5,239.5 215.5,258.5 217.5,261.5 219.5,254.5 220.5,266.5 222.5,269.5 223.5,265.5 225.5,278.5 227.5,275.5 229.5,287.5 231.5,285.5 233.5,297.5 236.5,290.5 238.5,301.5 240.5,296.5 242.5,291.5 244.5,301.5 248.5,290.5 250.5,298.5 252.5,298.5 254.5,306.5 256.5,301.5 258.5,289.5 261.5,299.5 263.5,289.5 266.5,295.5 269.5,303.5 273.5,293.5 276.5,299.5 278.5,304.5 281.5,305.5 283.5,310.5 285.5,308.5 287.5,312.5 290.5,309.5 293.5,314.5 296.5,306.5 299.5,310.5 301.5,307.5 303.5,310.5 306.5,306.5 309.5,311.5 311.5,308.5 313.5,314.5 316.5,309.5 319.5,314.5 322.5,306.5 325.5,310.5 328.5,304.5 332.5,308.5 335.5,312.5 337.5,309.5 340.5,313.5 344.5,306.5 347.5,310.5 349.5,304.5 353.5,308.5 357.5,312.5 358.5,309.5 361.5,313.5 364.5,310.5 367.5,313.5 370.5,316.5 373.5,313.5 375.5,315.5 377.5,313.5 379.5,315.5 381.5,316.5 383.5,311.5 385.5,309.5 387.5,311.5 390.5,307.5 392.5,309.5 394.5,310.5 396.5,312.5 398.5,311.5 400.5,314.5 403.5,313.5 405.5,315.5 409.5,310.5 411.5,312.5 414.5,309.5 417.5,312.5 420.5,314.5 422.5,313.5 425.5,316.5 428.5,312.5 430.5,312.5 433.5,311.5 435.5,314.5 438.5,313.5 440.5,314.5 442.5,312.5 445.5,314.5 447.5,313.5 449.5,314.5 451.5,315.5 454.5,313.5 456.5,316.5 458.5,314.5 461.5,315.5 463.5,313.5 466.5,316.5 468.5,314.5 471.5,316.5 473.5,314.5 475.5,316.5 477.5,314.5 479.5,316.5 482.5,313.5 485.5,313.5 488.5,312.5 490.5,314.5 492.5,313.5 495.5,315.5 497.5,313.5 500.5,315.5 502.5,313.5 505.5,316.5 507.5,314.5 509.5,316.5 512.5,313.5 514.5,315.5 517.5,313.5 519.5,316.5 522.5,314.5 525.5,316.5 527.5,313.5 530.5,314.5 533.5,312.5 535.5,315.5 538.5,313.5 540.5,314.5 543.5,312.5 545.5,315.5 548.5,313.5 551.5,313.5 554.5,312.5 556.5,314.5 558.5,313.5 560.5,315.5 562.5,314.5 564.5,316.5 566.5,315.5 569.5,317.5 571.5,316.5 574.5,314.5 576.5,311.5 579.5,313.5 581.5,311.5 583.5,313.5 586.5,311.5 588.5,313.5 591.5,312.5 594.5,314.5 597.5,313.5 599.5,315.5 602.5,314.5 604.5,316.5 607.5,315.5 609.5,316.5 612.5,315.5 614.5,316.5 617.5,315.5 619.5,317.5 622.5,315.5 624.5,317.5 627.5,316.5 629.5,317.5 632.5,315.5 634.5,317.5 637.5,316.5 639.5,317.5 640.5,316.5"/>
<polyline transform="translate(1,0)" fill="none" stroke="#000000" stroke-width="1" shape-rendering="crispEdges" points="179.5,820.5 179.5,774.5 180.5,774.5 180.5,680.5 181.5,680.5 181.5,582.5 182.5,582.5 182.5,484.5 183.5,484.5 183.5,383.5 184.5,383.5 184.5,284.5 185.5,284.5 185.5,215.5 186.5,215.5 186.5,159.5 187.5,159.5 187.5,115.5 188.5,115.5 188.5,81.5 189.5,81.5 189.5,53.5 190.5,110.5 191.5,144.5 192.5,159.5 193.5,143.5 194.5,125.5 195.5,125.5 196.5,165.5 197.5,183.5 200.5,189.5 201.5,202.5 202.5,216.5 203.5,221.5 205.5,248.5 207.5,252.5 208.5,239.5 210.5,260.5 212.5,260.5 213.5,239.5 215.5,258.5 217.5,261.5 219.5,254.5 220.5,266.5 222.5,269.5 223.5,265.5 225.5,278.5 227.5,275.5 229.5,287.5 231.5,285.5 233.5,297.5 236.5,290.5 238.5,301.5 240.5,296.5 242.5,291.5 244.5,301.5 248.5,290.5 250.5,298.5 252.5,298.5 254.5,306.5 256.5,301.5 258.5,289.5 261.5,299.5 263.5,289.5 266.5,295.5 269.5,303.5 273.5,293.5 276.5,299.5 278.5,304.5 281.5,305.5 283.5,310.5 285.5,308.5 287.5,312.5 290.5,309.5 293.5,314.5 296.5,306.5 299.5,310.5 301.5,307.5 303.5,310.5 306.5,306.5 309.5,311.5 311.5,308.5 313.5,314.5 316.5,309.5 319.5,314.5 322.5,306.5 325.5,310.5 328.5,304.5 332.5,308.5 335.5,312.5 337.5,309.5 340.5,313.5 344.5,306.5 347.5,310.5 349.5,304.5 353.5,308.5 357.5,312.5 358.5,309.5 361.5,313.5 364.5,310.5 367.5,313.5 370.5,316.5 373.5,313.5 375.5,315.5 377.5,313.5 379.5,315.5 381.5,316.5 383.5,311.5 385.5,309.5 387.5,311.5 390.5,307.5 392.5,309.5 394.5,310.5 396.5,312.5 398.5,311.5 400.5,314.5 403.5,313.5 405.5,315.5 409.5,310.5 411.5,312.5 414.5,309.5 417.5,312.5 420.5,314.5 422.5,313.5 425.5,316.5 428.5,312.5 430.5,312.5 433.5,311.5 435.5,314.5 438.5,313.5 440.5,314.5 442.5,312.5 445.5,314.5 447.5,313.5 449.5,314.5 451.5,315.5 454.5,313.5 456.5,316.5 458.5,314.5 461.5,315.5 463.5,313.5 466.5,316.5 468.5,314.5 471.5,316.5 473.5,314.5 475.5,316.5 477.5,314.5 479.5,316.5 482.5,313.5 485.5,313.5 488.5,312.5 490.5,314.5 492.5,313.5 495.5,315.5 497.5,313.5 500.5,315.5 502.5,313.5 505.5,316.5 507.5,314.5 509.5,316.5 512.5,313.5 514.5,315.5 517.5,313.5 519.5,316.5 522.5,314.5 525.5,316.5 527.5,313.5 530.5,314.5 533.5,312.5 535.5,315.5 538.5,313.5 540.5,314.5 543.5,312.5 545.5,315.5 548.5,313.5 551.5,313.5 554.5,312.5 556.5,314.5 558.5,313.5 560.5,315.5 562.5,314.5 564.5,316.5 566.5,315.5 569.5,317.5 571.5,316.5 574.5,314.5 576.5,311.5 579.5,313.5 581.5,311.5 583.5,313.5 586.5,311.5 588.5,313.5 591.5,312.5 594.5,314.5 597.5,313.5 599.5,315.5 602.5,314.5 604.5,316.5 607.5,315.5 609.5,316.5 612.5,315.5 614.5,316.5 617.5,315.5 619.5,317.5 622.5,315.5 624.5,317.5 627.5,316.5 629.5,317.5 632.5,315.5 634.5,317.5 637.5,316.5 639.5,317.5 640.5,316.5"/>
<polyline transform="translate(0,1)" fill="none" stroke="#000000" stroke-width="1" shape-rendering="crispEdges" points="179.5,820.5 179.5,774.5 180.5,774.5 180.5,680.5 181.5,680.5 181.5,582.5 182.5,582.5 182.5,484.5 183.5,484.5 183.5,383.5 184.5,383.5 184.5,284.5 185.5,284.5 185.5,215.5 186.5,215.5 186.5,159.5 187.5,159.5 187.5,115.5 188.5,115.5 188.5,81.5 189.5,81.5 189.5,53.5 190.5,110.5 191.5,144.5 192.5,159.5 193.5,143.5 194.5,125.5 195.5,125.5 196.5,165.5 197.5,183.5 200.5,189.5 201.5,202.5 202.5,216.5 203.5,221.5 205.5,248.5 207.5,252.5 208.5,239.5 210.5,260.5 212.5,260.5 213.5,239.5 215.5,258.5 217.5,261.5 219.5,254.5 220.5,266.5 222.5,269.5 223.5,265.5 225.5,278.5 227.5,275.5 229.5,287.5 231.5,285.5 233.5,297.5 236.5,290.5 238.5,301.5 240.5,296.5 242.5,291.5 244.5,301.5 248.5,290.5 250.5,298.5 252.5,298.5 254.5,306.5 256.5,301.5 258.5,289.5 261.5,299.5 263.5,289.5 266.5,295.5 269.5,303.5 273.5,293.5 276.5,299.5 278.5,304.5 281.5,305.5 283.5,310.5 285.5,308.5 287.5,312.5 290.5,309.5 293.5,314.5 296.5,306.5 299.5,310.5 301.5,307.5 303.5,310.5 306.5,306.5 309.5,311.5 311.5,308.5 313.5,314.5 316.5,309.5 319.5,314.5 322.5,306.5 325.5,310.5 328.5,304.5 332.5,308.5 335.5,312.5 337.5,309.5 340.5,313.5 344.5,306.5 347.5,310.5 349.5,304.5 353.5,308.5 357.5,312.5 358.5,309.5 361.5,313.5 364.5,310.5 367.5,313.5 370.5,316.5 373.5,313.5 375.5,315.5 377.5,313.5 379.5,315.5 381.5,316.5 383.5,311.5 385.5,309.5 387.5,311.5 390.5,307.5 392.5,309.5 394.5,310.5 396.5,312.5 398.5,311.5 400.5,314.5 403.5,313.5 405.5,315.5 409.5,310.5 411.5,312.5 414.5,309.5 417.5,312.5 420.5,314.5 422.5,313.5 425.5,316.5 428.5,312.5 430.5,312.5 433.5,311.5 435.5,314.5 438.5,313.5 440.5,314.5 442.5,312.5 445.5,314.5 447.5,313.5 449.5,314.5 451.5,315.5 454.5,313.5 456.5,316.5 458.5,314.5 461.5,315.5 463.5,313.5 466.5,316.5 468.5,314.5 471.5,316.5 473.5,314.5 475.5,316.5 477.5,314.5 479.5,316.5 482.5,313.5 485.5,313.5 488.5,312.5 490.5,314.5 492.5,313.5 495.5,315.5 497.5,313.5 500.5,315.5 502.5,313.5 505.5,316.5 507.5,314.5 509.5,316.5 512.5,313.5 514.5,315.5 517.5,313.5 519.5,316.5 522.5,314.5 525.5,316.5 527.5,313.5 530.5,314.5 533.5,312.5 535.5,315.5 538.5,313.5 540.5,314.5 543.5,312.5 545.5,315.5 548.5,313.5 551.5,313.5 554.5,312.5 556.5,314.5 558.5,313.5 560.5,315.5 562.5,314.5 564.5,316.5 566.5,315.5 569.5,317.5 571.5,316.5 574.5,314.5 576.5,311.5 579.5,313.5 581.5,311.5 583.5,313.5 586.5,311.5 588.5,313.5 591.5,312.5 594.5,314.5 597.5,313.5 599.5,315.5 602.5,314.5 604.5,316.5 607.5,315.5 609.5,316.5 612.5,315.5 614.5,316.5 617.5,315.5 619.5,317.5 622.5,315.5 624.5,317.5 627.5,316.5 629.5,317.5 632.5,315.5 634.5,317.5 637.5,316.5 639.5,317.5 640.5,316.5"/>
<polyline transform="translate(1,1)" fill="none" stroke="#000000" stroke-width="1" shape-rendering="crispEdges" points="179.5,820.5 179.5,774.5 180.5,774.5 180.5,680.5 181.5,680.5 181.5,582.5 182.5,582.5 182.5,484.5 183.5,484.5 183.5,383.5 184.5,383.5 184.5,284.5 185.5,284.5 185.5,215.5 186.5,215.5 186.5,159.5 187.5,159.5 187.5,115.5 188.5,115.5 188.5,81.5 189.5,81.5 189.5,53.5 190.5,110.5 191.5,144.5 192.5,159.5 193.5,143.5 194.5,125.5 195.5,125.5 196.5,165.5 197.5,183.5 200.5,189.5 201.5,202.5 202.5,216.5 203.5,221.5 205.5,248.5 207.5,252.5 208.5,239.5 210.5,260.5 212.5,260.5 213.5,239.5 215.5,258.5 217.5,261.5 219.5,254.5 220.5,266.5 222.5,269.5 223.5,265.5 225.5,278.5 227.5,275.5 229.5,287.5 231.5,285.5 233.5,297.5 236.5,290.5 238.5,301.5 240.5,296.5 242.5,291.5 244.5,301.5 248.5,290.5 250.5,298.5 252.5,298.5 254.5,306.5 256.5,301.5 258.5,289.5 261.5,299.5 263.5,289.5 266.5,295.5 269.5,303.5 273.5,293.5 276.5,299.5 278.5,304.5 281.5,305.5 283.5,310.5 285.5,308.5 287.5,312.5 290.5,309.5 293.5,314.5 296.5,306.5 299.5,310.5 301.5,307.5 303.5,310.5 306.5,306.5 309.5,311.5 311.5,308.5 313.5,314.5 316.5,309.5 319.5,314.5 322.5,306.5 325.5,310.5 328.5,304.5 332.5,308.5 335.5,312.5 337.5,309.5 340.5,313.5 344.5,306.5 347.5,310.5 349.5,304.5 353.5,308.5 357.5,312.5 358.5,309.5 361.5,313.5 364.5,310.5 367.5,313.5 370.5,316.5 373.5,313.5 375.5,315.5 377.5,313.5 379.5,315.5 381.5,316.5 383.5,311.5 385.5,309.5 387.5,311.5 390.5,307.5 392.5,309.5 394.5,310.5 396.5,312.5 398.5,311.5 400.5,314.5 403.5,313.5 405.5,315.5 409.5,310.5 411.5,312.5 414.5,309.5 417.5,312.5 420.5,314.5 422.5,313.5 425.5,316.5 428.5,312.5 430.5,312.5 433.5,311.5 435.5,314.5 438.5,313.5 440.5,314.5 442.5,312.5 445.5,314.5 447.5,313.5 449.5,314.5 451.5,315.5 454.5,313.5 456.5,316.5 458.5,314.5 461.5,315.5 463.5,313.5 466.5,316.5 468.5,314.5 471.5,316.5 473.5,314.5 475.5,316.5 477.5,314.5 479.5,316.5 482.5,313.5 485.5,313.5 488.5,312.5 490.5,314.5 492.5,313.5 495.5,315.5 497.5,313.5 500.5,315.5 502.5,313.5 505.5,316.5 507.5,314.5 509.5,316.5 512.5,313.5 514.5,315.5 517.5,313.5 519.5,316.5 522.5,314.5 525.5,316.5 527.5,313.5 530.5,314.5 533.5,312.5 535.5,315.5 538.5,313.5 540.5,314.5 543.5,312.5 545.5,315.5 548.5,313.5 551.5,313.5 554.5,312.5 556.5,314.5 558.5,313.5 560.5,315.5 562.5,314.5 564.5,316.5 566.5,315.5 569.5,317.5 571.5,316.5 574.5,314.5 576.5,311.5 579.5,313.5 581.5,311.5 583.5,313.5 586.5,311.5 588.5,313.5 591.5,312.5 594.5,314.5 597.5,313.5 599.5,315.5 602.5,314.5 604.5,316.5 607.5,315.5 609.5,316.5 612.5,315.5 614.5,316.5 617.5,315.5 619.5,317.5 622.5,315.5 624.5,317.5 627.5,316.5 629.5,317.5 632.5,315.5 634.5,317.5 637.5,316.5 639.5,317.5 640.5,316.5"/>
<path fill="#000000" shape-rendering="crispEdges" d="M641,316h3v2h-3zM644,315h2v2h-2zM646,316h4v2h-4zM650,315h1v2h-1zM651,316h4v2h-4zM655,315h2v2h-2zM657,316h2v2h-2zM659,315h1v2h-1zM660,316h2v2h-2zM662,315h1v2h-1zM663,316h4v2h-4zM667,315h1v2h-1zM668,316h3v2h-3zM671,316h2v2h-2zM673,317h4v2h-4zM677,316h1v2h-1zM678,317h4v2h-4zM682,318h1v2h-1zM683,317h2v2h-2zM685,316h1v2h-1zM686,317h3v2h-3zM689,316h2v2h-2zM691,317h2v2h-2zM693,316h1v2h-1zM694,317h3v2h-3zM697,316h1v2h-1zM698,317h3v2h-3zM701,316h2v2h-2zM703,317h4v2h-4zM707,316h1v2h-1zM708,317h3v2h-3zM711,316h1v2h-1zM712,317h2v2h-2zM714,316h1v2h-1zM715,317h2v2h-2zM717,318h2v2h-2zM719,317h3v2h-3zM722,318h2v2h-2zM724,317h2v2h-2zM726,316h1v2h-1zM727,317h2v2h-2zM729,316h2v2h-2zM731,317h4v2h-4zM735,316h2v2h-2zM737,317h4v2h-4zM741,316h1v2h-1zM742,317h3v2h-3zM745,318h2v2h-2zM747,317h3v2h-3zM750,316h1v2h-1zM751,317h2v2h-2zM753,316h1v2h-1zM754,317h2v2h-2zM756,318h1v2h-1zM757,317h3v2h-3zM760,316h1v2h-1zM761,317h2v2h-2zM763,316h2v2h-2zM765,317h4v2h-4zM769,316h1v2h-1zM770,317h3v2h-3zM773,316h1v2h-1zM774,317h2v2h-2zM776,316h1v2h-1zM777,317h4v2h-4zM781,316h2v2h-2zM783,317h2v2h-2zM785,316h1v2h-1zM786,316h4v2h-4zM790,317h1v2h-1zM791,316h2v2h-2zM793,315h1v2h-1zM794,316h2v2h-2zM796,315h2v2h-2zM798,316h3v2h-3zM801,317h1v2h-1zM802,316h2v2h-2zM804,317h1v2h-1zM805,316h3v2h-3zM808,315h2v2h-2zM810,316h2v2h-2zM812,315h2v2h-2zM814,316h2v2h-2zM816,315h2v2h-2zM818,316h2v2h-2zM820,315h2v2h-2zM822,316h4v2h-4zM826,315h1v2h-1zM827,316h2v2h-2zM829,315h1v2h-1zM830,316h3v2h-3zM833,315h2v2h-2zM835,316h3v2h-3zM838,317h1v2h-1zM839,316h2v2h-2zM841,315h2v2h-2zM843,316h4v2h-4zM847,315h2v2h-2zM849,316h4v2h-4zM853,315h2v2h-2zM855,316h2v2h-2zM857,315h1v2h-1zM858,316h3v2h-3zM861,315h1v2h-1zM862,316h2v2h-2zM864,317h1v2h-1zM865,316h3v2h-3zM868,316h2v2h-2zM870,317h2v2h-2zM872,316h1v2h-1zM873,317h4v2h-4zM877,318h1v2h-1zM878,317h2v2h-2zM880,316h2v2h-2zM882,317h4v2h-4zM886,316h1v2h-1zM887,317h2v2h-2zM889,316h2v2h-2zM891,317h4v2h-4zM895,316h2v2h-2zM897,317h2v2h-2zM899,316h1v2h-1zM900,317h4v2h-4zM904,316h2v2h-2zM906,317h2v2h-2zM908,316h1v2h-1zM909,317h3v2h-3zM912,316h1v2h-1zM913,317h4v2h-4zM917,316h1v2h-1zM918,317h3v2h-3zM921,318h2v2h-2zM923,317h3v2h-3zM926,316h1v2h-1zM927,317h3v2h-3zM930,316h1v2h-1zM931,317h4v2h-4zM935,316h1v2h-1zM936,317h3v2h-3zM939,316h2v2h-2zM941,317h4v2h-4zM945,318h1v2h-1zM946,317h4v2h-4zM950,316h1v2h-1zM951,317h3v2h-3zM954,316h2v2h-2zM956,317h4v2h-4zM960,316h2v2h-2zM962,317h4v2h-4zM966,316h1v2h-1zM967,317h4v2h-4zM971,316h1v2h-1zM972,317h2v2h-2zM974,318h2v2h-2zM976,317h4v2h-4zM980,316h1v2h-1zM981,317h4v2h-4zM985,316h2v2h-2zM987,317h2v2h-2zM989,316h2v2h-2zM991,317h4v2h-4zM995,316h1v2h-1zM996,317h3v2h-3zM999,316h2v2h-2zM1001,317h2v2h-2zM1003,316h2v2h-2zM1005,317h3v2h-3zM1008,316h1v2h-1zM1009,317h2v2h-2zM1011,316h1v2h-1zM1012,317h4v2h-4zM1016,316h2v2h-2zM1018,317h2v2h-2zM1020,316h2v2h-2zM1022,317h2v2h-2zM1024,316h1v2h-1zM1025,317h3v2h-3zM1028,318h1v2h-1zM1029,317h3v2h-3zM1032,316h2v2h-2zM1034,317h3v2h-3zM1037,316h2v2h-2zM1039,317h3v2h-3zM1042,316h2v2h-2zM1044,317h4v2h-4zM1048,316h2v2h-2zM1050,317h2v2h-2zM1052,316h2v2h-2zM1054,317h2v2h-2zM1056,316h2v2h-2zM1058,317h3v2h-3zM1061,316h1v2h-1zM1062,317h3v2h-3zM1065,316h2v2h-2zM1067,317h3v2h-3zM1070,316h1v2h-1zM1071,317h2v2h-2zM1073,316h1v2h-1zM1074,317h4v2h-4zM1078,316h2v2h-2zM1080,317h4v2h-4zM1084,316h1v2h-1zM1085,317h3v2h-3zM1088,316h2v2h-2zM1090,317h2v2h-2zM1092,316h2v2h-2zM1094,317h2v2h-2zM1096,316h1v2h-1zM1097,317h3v2h-3zM1100,316h1v2h-1zM1101,317h4v2h-4zM1105,318h1v2h-1zM1106,317h4v2h-4zM1110,316h2v2h-2zM1112,317h3v2h-3zM1115,316h1v2h-1zM1116,317h2v2h-2zM1118,316h2v2h-2zM1120,317h4v2h-4zM1124,317h2v2h-2zM1126,318h4v2h-4zM1130,319h1v2h-1zM1131,318h4v2h-4zM1135,317h1v2h-1zM1136,318h3v2h-3zM1139,317h1v2h-1zM1140,318h4v2h-4zM1144,317h2v2h-2zM1146,318h4v2h-4zM1150,317h1v2h-1zM1151,318h2v2h-2zM1153,317h1v2h-1zM1154,318h4v2h-4zM1158,317h2v2h-2zM1160,318h3v2h-3zM1163,317h1v2h-1zM1164,318h2v2h-2zM1166,317h2v2h-2zM1168,318h2v2h-2zM1170,317h2v2h-2zM1172,318h2v2h-2zM1174,317h2v2h-2zM1176,318h4v2h-4zM1180,317h2v2h-2zM1182,318h3v2h-3zM1185,317h1v2h-1zM1186,318h3v2h-3zM1189,317h2v2h-2zM1191,318h4v2h-4zM1195,317h1v2h-1zM1196,318h4v2h-4zM1200,317h2v2h-2zM1202,318h3v2h-3zM1205,317h1v2h-1zM1206,318h2v2h-2zM1208,317h2v2h-2zM1210,318h2v2h-2zM1212,317h2v2h-2zM1214,318h4v2h-4zM1218,317h1v2h-1zM1219,318h2v2h-2zM1221,317h1v2h-1zM1222,318h3v2h-3zM1225,317h1v2h-1zM1226,318h4v2h-4zM1230,319h1v2h-1zM1231,318h4v2h-4zM1235,317h2v2h-2zM1237,318h3v2h-3zM1240,317h2v2h-2zM1242,318h3v2h-3zM1245,317h1v2h-1zM1246,318h3v2h-3zM1249,318h2v2h-2zM1251,317h3v2h-3zM1254,316h1v2h-1zM1255,317h2v2h-2zM1257,318h1v2h-1zM1258,317h2v2h-2zM1260,318h1v2h-1zM1261,317h3v2h-3zM1264,316h2v2h-2zM1266,317h2v2h-2zM1268,318h2v2h-2zM1270,317h4v2h-4zM1274,316h1v2h-1zM1275,317h4v2h-4zM1279,316h2v2h-2zM1281,317h4v2h-4zM1285,318h2v2h-2zM1287,317h4v2h-4zM1291,316h2v2h-2z"/>
<line x1="179" y1="319" x2="1292" y2="319" stroke="#00ffff" stroke-width="2" stroke-dasharray="22 6 6 7" shape-rendering="crispEdges"/>
<g filter="url(#bin)">
<text transform="translate(179.0,949.6) scale(1,1.070)" font-family="&quot;Liberation Sans&quot;, sans-serif" font-size="55.0" fill="#262626" text-anchor="middle">0</text>
<text transform="translate(735.5,949.6) scale(1,1.070)" font-family="&quot;Liberation Sans&quot;, sans-serif" font-size="55.0" fill="#262626" text-anchor="middle">2000</text>
<text transform="translate(1013.8,949.6) scale(1,1.070)" font-family="&quot;Liberation Sans&quot;, sans-serif" font-size="55.0" fill="#262626" text-anchor="middle">3000</text>
<text transform="translate(1292.0,949.6) scale(1,1.070)" font-family="&quot;Liberation Sans&quot;, sans-serif" font-size="55.0" fill="#262626" text-anchor="middle">4000</text>
<text transform="translate(518.4,949.6) scale(1,1.070)" font-family="&quot;Liberation Sans&quot;, sans-serif" font-size="55.0" fill="#262626" text-anchor="end">000</text>
<path fill="#262626" d="M410.7,910 H415 V949 H410 V921 H402 V917 H406 L409,915.4 L410.4,913 Z"/>
<text transform="translate(161,896.5) scale(1,1.070)" font-family="&quot;Liberation Sans&quot;, sans-serif" font-size="55.0" fill="#262626" text-anchor="end">0</text>
<text transform="translate(161,619.8) scale(1,1.070)" font-family="&quot;Liberation Sans&quot;, sans-serif" font-size="55.0" fill="#262626" text-anchor="end">5</text>
<text transform="translate(160,342.0) scale(1,1.070)" font-family="&quot;Liberation Sans&quot;, sans-serif" font-size="55.0" fill="#262626" text-anchor="end">0</text>
<text transform="translate(161,64.2) scale(1,1.070)" font-family="&quot;Liberation Sans&quot;, sans-serif" font-size="55.0" fill="#262626" text-anchor="end">5</text>
<path fill="#262626" d="M114.7,302 H119 V341 H114 V313 H106 V309 H110 L113,307.4 L114.4,305 Z"/>
<path fill="#262626" d="M114.7,24 H119 V63 H114 V35 H106 V31 H110 L113,29.4 L114.4,27 Z"/>
<text transform="translate(736.5,1018) scale(1.11,1)" font-family="&quot;Liberation Serif&quot;, serif" font-size="60" fill="#262626" text-anchor="middle">time in slots</text>
<text transform="translate(69,458.4) rotate(-90)" font-family="&quot;Liberation Serif&quot;, serif" font-size="63.5" fill="#262626" stroke="#262626" stroke-width="0.5" text-anchor="middle">AoI value</text>
<rect x="953" y="70" width="311" height="189" fill="#fff" stroke="#111111" stroke-width="2" shape-rendering="crispEdges"/>
<line x1="963" y1="104" x2="1067" y2="104" stroke="#0000ff" stroke-width="2" shape-rendering="crispEdges"/>
<line x1="963" y1="165" x2="1067" y2="165" stroke="#ff0000" stroke-width="2" shape-rendering="crispEdges"/>
<line x1="963" y1="225" x2="1067" y2="225" stroke="#000000" stroke-width="2" shape-rendering="crispEdges"/>
<text transform="translate(1074,116.5) scale(1,1.03)" font-family="&quot;Liberation Serif&quot;, serif" font-size="49" fill="#000" stroke="#000" stroke-width="0.8" font-style="italic">V</text>
<rect x="1130" y="98" width="33" height="3" fill="#000" shape-rendering="crispEdges"/>
<rect x="1130" y="107" width="33" height="3" fill="#000" shape-rendering="crispEdges"/>
<text transform="translate(1180,116.5) scale(1,1.03)" font-family="&quot;Liberation Serif&quot;, serif" font-size="49" fill="#000" stroke="#000" stroke-width="0.8">200</text>
<text transform="translate(1074,177) scale(1,1.03)" font-family="&quot;Liberation Serif&quot;, serif" font-size="49" fill="#000" stroke="#000" stroke-width="0.8">400</text>
<text transform="translate(1074,238) scale(1,1.03)" font-family="&quot;Liberation Serif&quot;, serif" font-size="49" fill="#000" stroke="#000" stroke-width="0.8">800</text>
</g>
</svg></body></html>
